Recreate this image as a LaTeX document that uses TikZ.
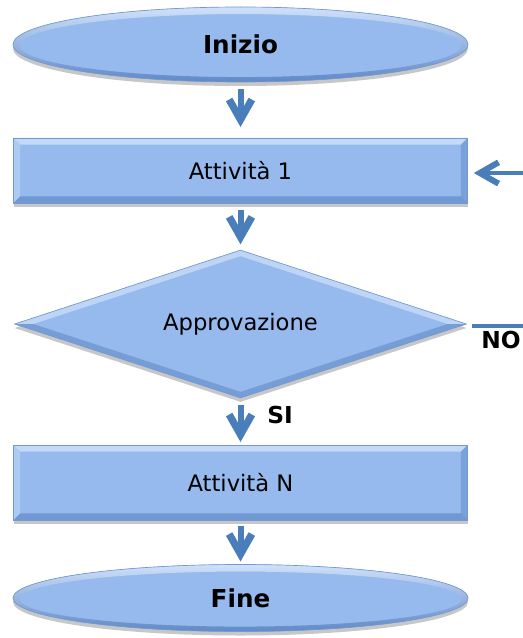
\documentclass[tikz,border=0pt]{standalone}
\usepackage{fontspec}
\setmainfont{DejaVu Sans}
\usetikzlibrary{shapes.geometric,arrows.meta,shadows}

\definecolor{boxfill}{HTML}{96BAEE}
\definecolor{boxhi}{HTML}{CFE1FA}
\definecolor{boxlo}{HTML}{6089C6}
\definecolor{boxline}{HTML}{7399D2}
\definecolor{arrowblue}{HTML}{4A7EBB}

\def\pxu{0.75pt}

\tikzset{
  boxshadow/.style={drop shadow={shadow xshift=0pt, shadow yshift=-3pt, fill=black, opacity=0.22}},
  endpoint/.style={ellipse, minimum width=455*\pxu, minimum height=#1*\pxu, inner sep=0pt,
    fill=boxfill, draw=boxline, line width=0.5pt, boxshadow,
    font=\bfseries\fontsize{18.5}{20}\selectfont,
    path picture={
      \fill[top color=boxhi, middle color=boxfill, bottom color=boxlo, even odd rule]
        (path picture bounding box.center) ellipse [x radius=227.5*\pxu, y radius=#1/2*\pxu]
        ([yshift=-0.8pt]path picture bounding box.center) ellipse [x radius=221*\pxu, y radius={(#1/2-6)*\pxu}];
    }},
  activity/.style={rectangle, minimum width=454*\pxu, minimum height=#1*\pxu, inner sep=0pt,
    fill=boxfill, draw=boxline, line width=0.5pt, boxshadow,
    font=\fontsize{17}{19}\selectfont,
    path picture={
      %bevel
      \fill[boxhi!80!boxfill] (path picture bounding box.north west) -- (path picture bounding box.north east)
        -- ([shift={(-5pt,-5pt)}]path picture bounding box.north east) -- ([shift={(5pt,-5pt)}]path picture bounding box.north west) -- cycle;
      \fill[boxhi!40!boxfill] (path picture bounding box.north west) -- (path picture bounding box.south west)
        -- ([shift={(5pt,5pt)}]path picture bounding box.south west) -- ([shift={(5pt,-5pt)}]path picture bounding box.north west) -- cycle;
      \fill[boxlo!50!boxfill] (path picture bounding box.north east) -- (path picture bounding box.south east)
        -- ([shift={(-5pt,5pt)}]path picture bounding box.south east) -- ([shift={(-5pt,-5pt)}]path picture bounding box.north east) -- cycle;
      \fill[boxlo!70!boxfill] (path picture bounding box.south west) -- (path picture bounding box.south east)
        -- ([shift={(-5pt,5pt)}]path picture bounding box.south east) -- ([shift={(5pt,5pt)}]path picture bounding box.south west) -- cycle;
    }},
  decision/.style={diamond, aspect=3, minimum width=452*\pxu, minimum height=148*\pxu, inner sep=0pt,
    fill=boxfill, draw=boxline, line width=0.5pt, boxshadow,
    font=\fontsize{17}{19}\selectfont,
    path picture={
      \fill[boxhi!70!boxfill] (path picture bounding box.west) -- (path picture bounding box.north) -- (path picture bounding box.east)
        -- ([xshift=-14pt]path picture bounding box.east) -- ([yshift=-4.5pt]path picture bounding box.north) -- ([xshift=14pt]path picture bounding box.west) -- cycle;
      \fill[boxlo!60!boxfill] (path picture bounding box.west) -- (path picture bounding box.south) -- (path picture bounding box.east)
        -- ([xshift=-14pt]path picture bounding box.east) -- ([yshift=4.5pt]path picture bounding box.south) -- ([xshift=14pt]path picture bounding box.west) -- cycle;
    }},
  flowarrow/.style={draw=arrowblue, line width=6*\pxu, -{Straight Barb[sharp, length=15pt, width=17pt, line width=5.5pt]}},
  sidearrow/.style={draw=arrowblue, line width=4.5*\pxu, -{Straight Barb[sharp, length=14pt, width=16pt, line width=4.5pt]}},
  sideline/.style={draw=arrowblue, line width=4.5*\pxu},
  answer/.style={font=\bfseries\fontsize{17.5}{20}\selectfont, inner sep=0pt}
}

\begin{document}
\begin{tikzpicture}[x=0.75pt,y=-0.75pt]
  \fill[white] (0,0) rectangle (523,638);
  \useasboundingbox (0,0) rectangle (523,638);

  %steps
  \node[endpoint=75] (inizio) at (240.5,44.5) {Inizio};
  \node[activity=65] (att1) at (240.5,170.5) {Attività 1};
  \node[decision] (appr) at (240.5,324) {Approvazione};
  \node[activity=75] (attN) at (240.5,482.5) {Attività N};
  \node[endpoint=67] (fine) at (240.5,598) {Fine};

  %loose ends
  \coordinate (backin) at (523,173);
  \coordinate (noout) at (523,326);

  %flow
  \draw[flowarrow, shorten <=5pt, shorten >=8pt] (inizio) -- (att1);
  \draw[flowarrow, shorten <=5pt, shorten >=4pt] (att1) -- (appr);
  \draw[flowarrow, shorten <=5pt, shorten >=2pt] (appr) -- (attN);
  \draw[flowarrow, shorten <=4pt, shorten >=2pt] (attN) -- (fine);
  \draw[sidearrow, shorten >=4.5pt] (backin) -- (att1.east |- backin);
  \draw[sideline, shorten <=4pt] (appr.east |- noout) -- (noout);

  %labels
  \node[answer] (no) at (501,340) {NO};
  \node[answer] (si) at (280,415) {SI};
\end{tikzpicture}
\end{document}
